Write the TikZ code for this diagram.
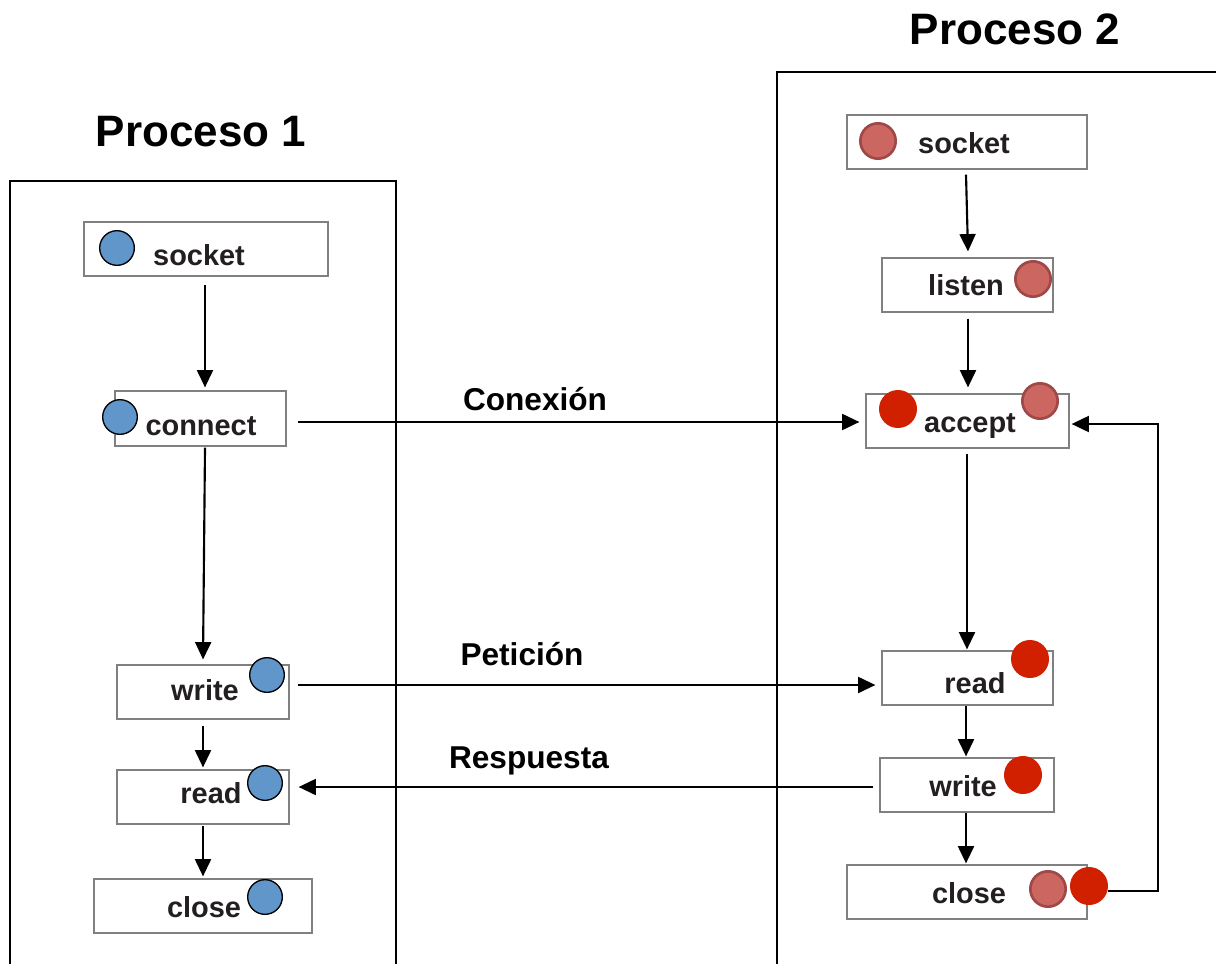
\documentclass[tikz,border=0pt]{standalone}
\usepackage{fontspec}
\setmainfont{Liberation Sans}
\usetikzlibrary{arrows.meta,calc}
\definecolor{txt}{HTML}{231F20}
\definecolor{bluef}{HTML}{6196CB}
\definecolor{pinkf}{HTML}{CC6660}
\definecolor{pinkd}{HTML}{A04848}
\definecolor{redf}{HTML}{D12000}
\definecolor{boxg}{HTML}{808080}
\begin{document}
\begin{tikzpicture}[x=0.75pt,y=-0.75pt,
  box/.style={draw=boxg,line width=0.9pt,fill=white,inner sep=0pt},
  lbl/.style={anchor=base,inner sep=0pt,text=txt,font=\fontsize{21.7}{26}\selectfont\bfseries},
  alab/.style={anchor=base,inner sep=0pt,text=black,font=\fontsize{23.7}{28}\selectfont\bfseries},
  title/.style={anchor=base,inner sep=0pt,text=black,font=\fontsize{33}{40}\selectfont\bfseries},
  bdot/.style={circle,draw=black,line width=1pt,fill=bluef,minimum size=26pt,inner sep=0pt},
  pdot/.style={circle,draw=pinkd,line width=2pt,fill=pinkf,minimum size=26.5pt,inner sep=0pt},
  rdot/.style={circle,fill=redf,minimum size=28.5pt,inner sep=0pt},
  arr/.style={line width=1.6pt,-{Triangle[length=13pt,width=12pt]}},
  frame/.style={line width=1.2pt,black}]
\useasboundingbox (0,0) rectangle (1216,964);
% frames
\draw[frame] (10,964) -- (10,181) -- (396,181) -- (396,964);
\draw[frame] (777,964) -- (777,72) -- (1216,72);
\node[title] (t1) at (201,146) {Proceso 1};
\node[title] (t2) at (1015,44) {Proceso 2};
% left boxes
\node[box,minimum width=183pt,minimum height=40.5pt] (sL) at (206,249) {};
\node[box,minimum width=128.25pt,minimum height=41.25pt] (cL) at (200.5,418.5) {};
\node[box,minimum width=129pt,minimum height=40.5pt] (wL) at (203,692) {};
\node[box,minimum width=129pt,minimum height=40.5pt] (rL) at (203,797) {};
\node[box,minimum width=163.5pt,minimum height=40.5pt] (xL) at (203,906) {};
\node[lbl] (sLt) at (199,265) {socket};
\node[lbl] (cLt) at (201,435) {connect};
\node[lbl] (wLt) at (205,700) {write};
\node[lbl] (rLt) at (211,803) {read};
\node[lbl] (xLt) at (204,917) {close};
\node[bdot] (sLd) at (117,248) {};
\node[bdot] (cLd) at (120,417) {};
\node[bdot] (wLd) at (267,675) {};
\node[bdot] (rLd) at (265,783) {};
\node[bdot] (xLd) at (265,897) {};
% right boxes
\node[box,minimum width=180pt,minimum height=40.5pt] (sR) at (967,142) {};
\node[box,minimum width=128.25pt,minimum height=40.5pt] (lR) at (967.5,285) {};
\node[box,minimum width=152.25pt,minimum height=40.5pt] (aR) at (967.5,421) {};
\node[box,minimum width=128.25pt,minimum height=40.5pt] (rR) at (967.5,678) {};
\node[box,minimum width=130.5pt,minimum height=40.5pt] (wR) at (967,785) {};
\node[box,minimum width=180pt,minimum height=40.5pt] (xR) at (967,892) {};
\node[lbl] (sRt) at (964,153) {socket};
\node[lbl] (lRt) at (966,295) {listen};
\node[lbl] (aRt) at (970,432) {accept};
\node[lbl] (rRt) at (975,693) {read};
\node[lbl] (wRt) at (963,796) {write};
\node[lbl] (xRt) at (969,903) {close};
\node[pdot] (sRd) at (878,141) {};
\node[pdot] (lRd) at (1033,279) {};
\node[rdot] (aRr) at (898,409) {};
\node[pdot] (aRp) at (1040,401) {};
\node[rdot] (rRr) at (1030,659) {};
\node[rdot] (wRr) at (1023,775) {};
\node[pdot] (xRp) at (1048,889) {};
\node[rdot] (xRr) at (1089,886) {};
% left arrows
\draw[arr] ($(sL.south)+(-1,8)$) -- ($(cL.north)+(4.5,-3)$);
\draw[arr] ($(cL.south)+(4.5,1)$) -- ($(wL.north)+(0,-5)$);
\draw[arr] ($(wL.south)+(0,6)$) -- ($(rL.north)+(0,-2)$);
\draw[arr] ($(rL.south)+(0,1)$) -- ($(xL.north)+(0,-2)$);
% right arrows
\draw[arr] ($(sR.south)+(-1,5)$) -- ($(lR.north)+(0.5,-6)$);
\draw[arr] ($(lR.south)+(0.5,6)$) -- ($(aR.north)+(0.5,-6)$);
\draw[arr] ($(aR.south)+(-0.5,5)$) -- ($(rR.north)+(-0.5,-1)$);
\draw[arr] ($(rR.south)+(-1.5,0)$) -- ($(wR.north)+(-1,-1)$);
\draw[arr] ($(wR.south)+(-1,0)$) -- ($(xR.north)+(-1,-1)$);
% horizontal messages
\draw[arr] ($(cL.east)+(11,3.5)$) -- ($(aR.west)+(-6,1)$);
\draw[arr] ($(wL.east)+(8,-7)$) -- ($(rR.west)+(-6,7)$);
\draw[arr] ($(wR.west)+(-6,2)$) -- ($(rL.east)+(9,-10)$);
\node[alab] (l1) at (535,410) {Conexión};
\node[alab] (l2) at (522,665) {Petición};
\node[alab] (l3) at (529,768) {Respuesta};
% loop back
\coordinate (lp) at (1158,424);
\draw[arr] ($(xRr.east)+(0,5)$) -| (lp) -- ($(aR.east)+(2,3)$);
\end{tikzpicture}
\end{document}
